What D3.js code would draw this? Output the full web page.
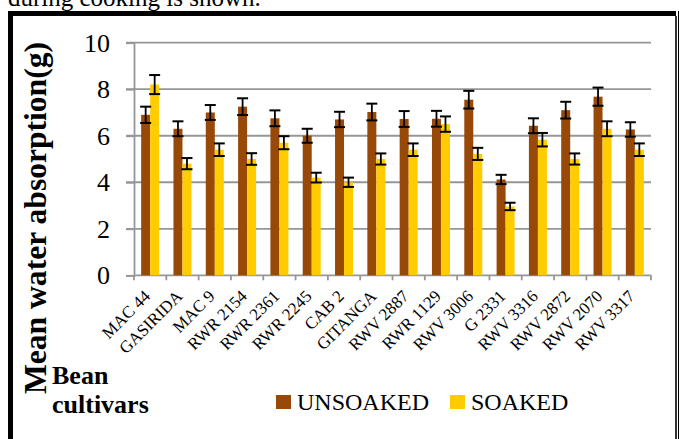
<!DOCTYPE html>
<html><head><meta charset="utf-8">
<script src="https://cdn.jsdelivr.net/npm/d3@7"></script>
<style>html,body{margin:0;padding:0;background:#fff;overflow:hidden}</style>
</head><body>
<svg id="c" width="679" height="439"></svg>
<script>
const categories = ["MAC 44","GASIRIDA","MAC 9","RWR 2154","RWR 2361","RWR 2245","CAB 2","GITANGA","RWV 2887","RWR 1129","RWV 3006","G 2331","RWV 3316","RWV 2872","RWV 2070","RWV 3317"];
const seriesNames = ["UNSOAKED","SOAKED"];
const unsoaked = [6.9,6.3,7.0,7.25,6.75,6.0,6.7,7.02,6.72,6.73,7.55,4.12,6.43,7.1,7.68,6.27];
const soaked   = [8.2,4.8,5.4,5.0,5.7,4.2,4.0,5.0,5.4,6.5,5.22,2.96,5.83,5.0,6.3,5.4];
const errUnsoaked = [0.35,0.32,0.32,0.36,0.34,0.30,0.33,0.36,0.34,0.34,0.38,0.20,0.32,0.36,0.39,0.31];
const errSoaked   = [0.41,0.24,0.27,0.25,0.28,0.21,0.20,0.24,0.27,0.33,0.26,0.16,0.29,0.24,0.32,0.27];
const yTicks = [0,2,4,6,8,10];
const colors = ["#984807","#FFCC00"];

const svg = d3.select("#c");
const pLeft = 134, pRight = 651, pTop = 42.7, pBottom = 275.3;

// frame
svg.append("path").attr("d","M10.5,439 L10.5,13.5 L676.5,13.5 L676.5,439")
  .attr("fill","none").attr("stroke","#000").attr("stroke-width",5);
svg.append("line").attr("x1",677).attr("x2",677).attr("y1",11).attr("y2",439).attr("stroke","#fff").attr("stroke-width",2);
svg.append("line").attr("x1",676).attr("x2",676).attr("y1",16).attr("y2",439).attr("stroke","#333").attr("stroke-width",2);
svg.append("rect").attr("x",13).attr("y",16).attr("width",662).attr("height",423).attr("fill","#fff");

// top text (cut off by the page edge, as in the source)
svg.append("text").attr("x",8).attr("y",6).attr("font-family","Liberation Serif").attr("font-size",25).attr("fill","#000").text("during cooking is shown.");

const y = d3.scaleLinear().domain([0,10]).range([pBottom, pTop]);
const x0 = d3.scaleBand().domain(categories).range([pLeft, pRight]).padding(0);
const bw = x0.bandwidth();
const x1 = d3.scaleBand().domain(seriesNames).range([(bw-18)/2,(bw+18)/2]).padding(0);

// gridlines
svg.append("g").selectAll("line").data(yTicks.filter(d=>d>0)).join("line")
  .attr("x1",pLeft-8).attr("x2",pRight).attr("y1",d=>y(d)).attr("y2",d=>y(d))
  .attr("stroke","#969696").attr("stroke-width",1.8);

// y axis
const yAxis = d3.axisLeft(y).tickValues(yTicks).tickSize(8).tickPadding(16).tickFormat(d3.format("d"));
const gy = svg.append("g").attr("transform",`translate(${pLeft},0)`).call(yAxis);
gy.select(".domain").attr("stroke","#969696").attr("stroke-width",1.8);
gy.selectAll(".tick line").attr("stroke","#969696").attr("stroke-width",1.8);
gy.selectAll(".tick text").attr("font-family","Liberation Serif").attr("font-size",26).attr("fill","#000");

// x axis
const gx = svg.append("g").attr("transform",`translate(0,${pBottom})`);
gx.append("line").attr("x1",pLeft).attr("x2",pRight).attr("y1",0).attr("y2",0).attr("stroke","#969696").attr("stroke-width",1.8);
const bounds = categories.map(c=>x0(c)).concat([pRight]);
gx.selectAll("line.t").data(bounds).join("line").attr("class","t")
  .attr("x1",d=>d).attr("x2",d=>d).attr("y1",0).attr("y2",5).attr("stroke","#969696").attr("stroke-width",1.8);
gx.selectAll("text").data(categories).join("text")
  .attr("transform",c=>`translate(${x0(c)+bw/2+1},${22}) rotate(-45)`)
  .attr("text-anchor","end").attr("font-family","Liberation Serif").attr("font-size",17).attr("fill","#000").text(c=>c);

// bars
const data = categories.map((c,i)=>({c, vals:[
  {s:seriesNames[0], v:unsoaked[i], e:errUnsoaked[i], col:colors[0]},
  {s:seriesNames[1], v:soaked[i], e:errSoaked[i], col:colors[1]}]}));
const g = svg.append("g").selectAll("g").data(data).join("g").attr("transform",d=>`translate(${x0(d.c)},0)`);
g.selectAll("rect").data(d=>d.vals).join("rect")
  .attr("x",d=>x1(d.s)).attr("width",x1.bandwidth())
  .attr("y",d=>y(d.v)).attr("height",d=>y(0)-y(d.v)).attr("fill",d=>d.col);
// error bars
const eb = g.selectAll("g.eb").data(d=>d.vals).join("g").attr("class","eb")
  .attr("transform",d=>`translate(${x1(d.s)+x1.bandwidth()/2},0)`);
eb.append("line").attr("x1",0).attr("x2",0).attr("y1",d=>y(d.v+d.e)).attr("y2",d=>y(d.v-d.e)).attr("stroke","#000").attr("stroke-width",1.8);
eb.append("line").attr("x1",-5.5).attr("x2",5.5).attr("y1",d=>y(d.v+d.e)).attr("y2",d=>y(d.v+d.e)).attr("stroke","#000").attr("stroke-width",2);
eb.append("line").attr("x1",-5.5).attr("x2",5.5).attr("y1",d=>y(d.v-d.e)).attr("y2",d=>y(d.v-d.e)).attr("stroke","#000").attr("stroke-width",2);

// y title
svg.append("text").attr("transform","translate(46,42) rotate(-90)").attr("text-anchor","end")
  .attr("font-family","Liberation Serif").attr("font-weight","bold").attr("font-size",31).attr("fill","#000")
  .attr("textLength",352).attr("lengthAdjust","spacingAndGlyphs")
  .text("Mean water absorption(g)");

// x title
const xt = svg.append("text").attr("font-family","Liberation Serif").attr("font-weight","bold").attr("font-size",26).attr("fill","#000");
xt.append("tspan").attr("x",52).attr("y",384).text("Bean");
xt.append("tspan").attr("x",52).attr("y",413).text("cultivars");

// legend
const legX = [276, 450];
const lg = svg.append("g").selectAll("g").data(seriesNames).join("g").attr("transform",(d,i)=>`translate(${legX[i]},395)`);
lg.append("rect").attr("width",15).attr("height",14).attr("fill",(d,i)=>colors[i]);
lg.append("text").attr("x",21).attr("y",15).attr("font-family","Liberation Serif").attr("font-size",24).attr("fill","#000").text(d=>d);
</script>
</body></html>
